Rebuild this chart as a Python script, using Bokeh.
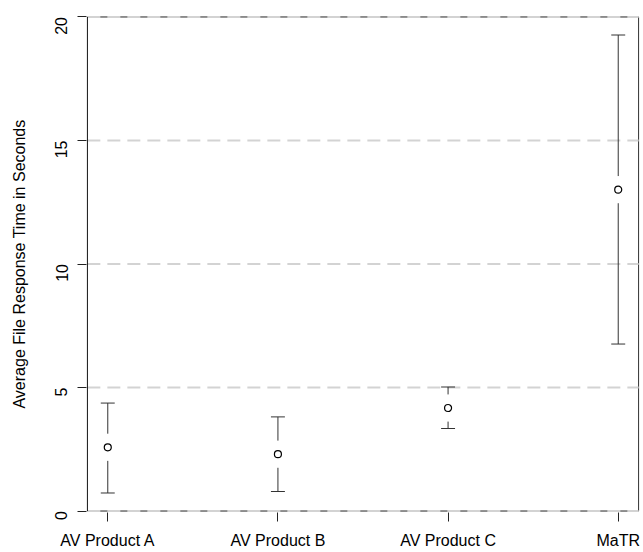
import math
from bokeh.plotting import figure
from bokeh.models import Range1d, FixedTicker
from bokeh.embed import file_html
from bokeh.resources import INLINE

# ---- data ----
categories = ["AV Product A", "AV Product B", "AV Product C", "MaTR"]
means = [2.58, 2.30, 4.17, 13.01]
upper = [4.37, 3.81, 5.02, 19.27]
lower = [0.73, 0.79, 3.34, 6.76]
y_ticks = [0, 5, 10, 15, 20]
y_label = "Average File Response Time in Seconds"

positions = list(range(1, len(categories) + 1))
n = len(categories)
xlo = 1 - 0.04 * (n - 1)
xhi = n + 0.04 * (n - 1)
ylo, yhi = y_ticks[0], y_ticks[-1]

FONT = "Liberation Sans"

p = figure(width=643, height=552,
           x_range=Range1d(xlo - 0.005, xhi + 0.005),
           y_range=Range1d(ylo - 0.06, yhi + 0.06),
           output_backend="svg", toolbar_location=None,
           min_border_left=86, min_border_right=4,
           min_border_top=15, min_border_bottom=40)
p.xgrid.visible = False
p.ygrid.visible = False
p.outline_line_color = None
p.background_fill_color = "white"
p.border_fill_color = "white"

# axes
p.xaxis.ticker = FixedTicker(ticks=positions)
p.xaxis.major_label_overrides = {pos: c for pos, c in zip(positions, categories)}
p.yaxis.ticker = FixedTicker(ticks=y_ticks)
for ax in (p.xaxis[0], p.yaxis[0]):
    ax.axis_line_color = None
    ax.major_tick_line_color = "#222222"
    ax.major_tick_out = 9
    ax.major_tick_in = 0
    ax.minor_tick_line_color = None
    ax.major_label_text_font = FONT
    ax.major_label_text_font_size = "16px"
    ax.major_label_text_color = "black"
p.xaxis.major_label_standoff = 10
p.yaxis.major_label_standoff = 16
p.yaxis.major_label_orientation = math.pi / 2
p.yaxis.axis_label = y_label
p.yaxis.axis_label_text_font = FONT
p.yaxis.axis_label_text_font_size = "16px"
p.yaxis.axis_label_text_font_style = "normal"
p.yaxis.axis_label_text_color = "black"
p.yaxis.axis_label_standoff = 19

# box (top, right, bottom)
p.segment(x0=[xlo, xhi, xlo], y0=[yhi, ylo, ylo], x1=[xhi, xhi, xhi], y1=[yhi, yhi, ylo],
          line_color="#222222", line_width=1)
# dashed horizontal grid lines
p.segment(x0=[xlo] * len(y_ticks), x1=[xhi] * len(y_ticks), y0=y_ticks, y1=y_ticks,
          line_color="#d3d3d3", line_width=2, line_dash="13 7")
# left axis line
p.segment(x0=[xlo], y0=[ylo], x1=[xlo], y1=[yhi], line_color="black", line_width=1)

# error bars with gap around point
gap = 0.55
cap = 0.041
p.segment(x0=positions, x1=positions, y0=upper, y1=[m + gap for m in means],
          line_color="#333333", line_width=1)
p.segment(x0=positions, x1=positions, y0=lower, y1=[m - gap for m in means],
          line_color="#333333", line_width=1)
p.segment(x0=[x - cap for x in positions], x1=[x + cap for x in positions], y0=upper, y1=upper,
          line_color="#333333", line_width=1)
p.segment(x0=[x - cap for x in positions], x1=[x + cap for x in positions], y0=lower, y1=lower,
          line_color="#333333", line_width=1)
p.scatter(positions, means, size=7, marker="circle", fill_color=None,
          line_color="black", line_width=1.2)

open("out.html", "w").write(file_html(p, INLINE))
